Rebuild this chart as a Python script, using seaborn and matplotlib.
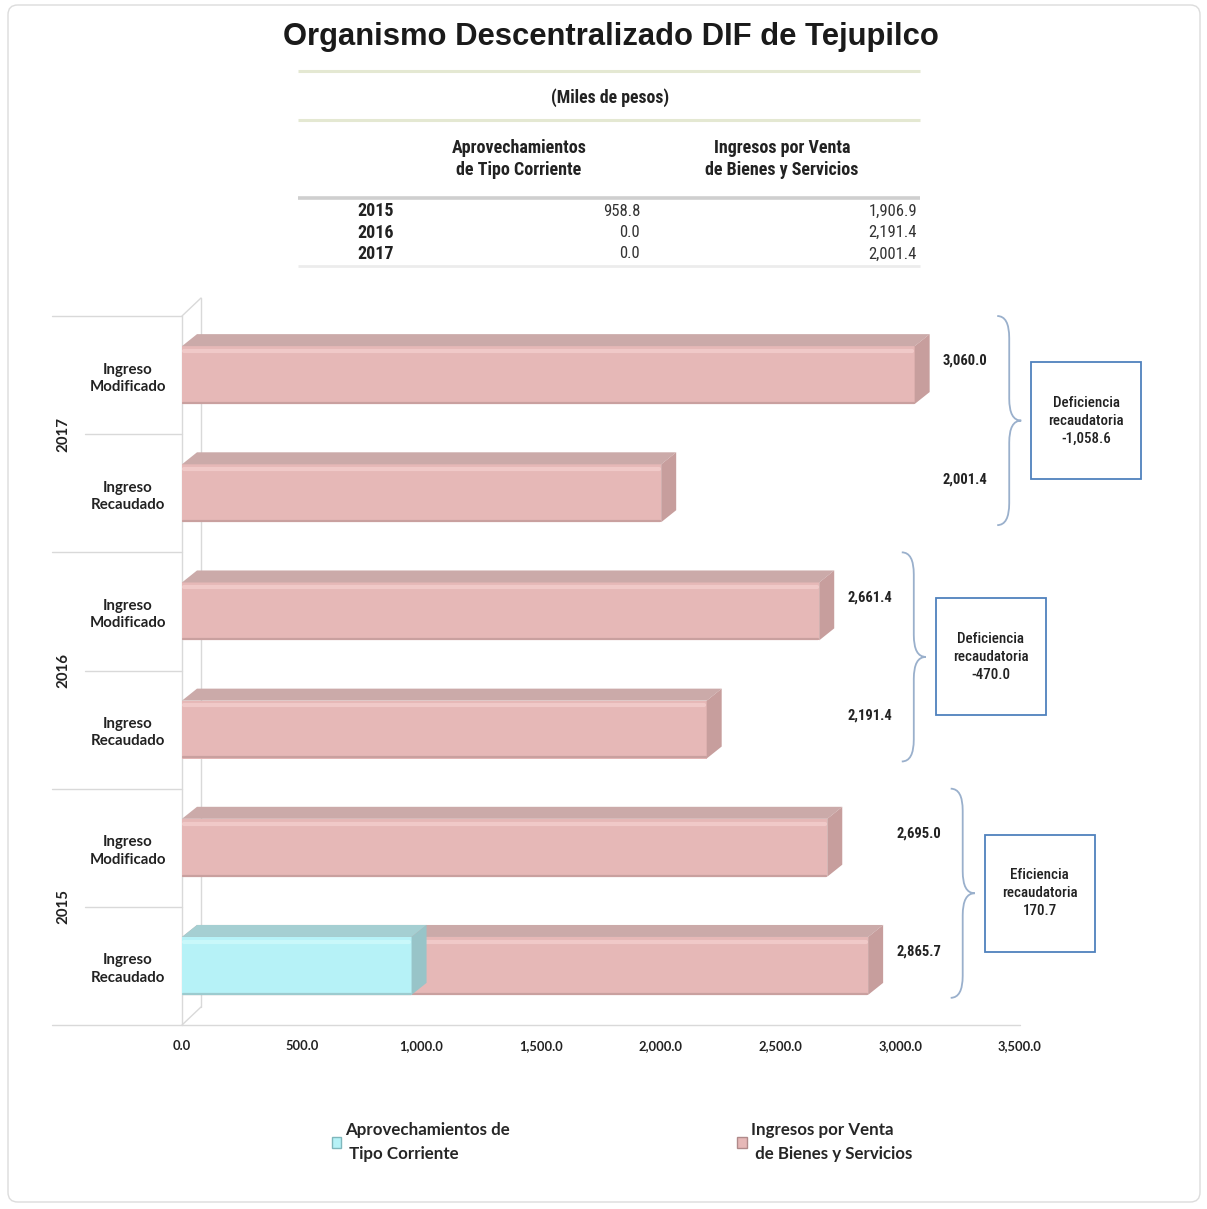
import numpy as np
import pandas as pd
import matplotlib
matplotlib.use("Agg")
import matplotlib.pyplot as plt
import seaborn as sns
from matplotlib.patches import Polygon, PathPatch, Rectangle, FancyBboxPatch, Patch
from matplotlib.path import Path
from matplotlib.lines import Line2D
from matplotlib.transforms import IdentityTransform
from matplotlib import font_manager

# ---------------- data ----------------
years = ["2017", "2016", "2015"]                      # top to bottom
stages = ["Ingreso\nModificado", "Ingreso\nRecaudado"]
aprov_modificado = [0.0, 0.0, 0.0]
ingresos_modificado = [3060.0, 2661.4, 2695.0]
aprov_recaudado = [0.0, 0.0, 958.8]
ingresos_recaudado = [2001.4, 2191.4, 1906.9]
x_ticks = [0, 500, 1000, 1500, 2000, 2500, 3000, 3500]
series_names = ["Aprovechamientos de\n Tipo Corriente", "Ingresos por Venta\n de Bienes y Servicios"]
table_headers = ["Aprovechamientos\nde Tipo Corriente", "Ingresos por Venta\nde Bienes y Servicios"]
title = "Organismo Descentralizado DIF de Tejupilco"
subtitle = "(Miles de pesos)"

# ---------------- fonts ----------------
def pick(names):
    for n in names:
        try:
            font_manager.findfont(font_manager.FontProperties(family=n), fallback_to_default=False)
            return n
        except Exception:
            continue
    return "DejaVu Sans"

sns.set_theme(style="white")
F_ARIAL = pick(["Liberation Sans", "Arimo", "DejaVu Sans"])
F_NARROW = pick(["Liberation Sans Narrow", "Roboto Condensed", "Liberation Sans"])
F_CAL = pick(["Lato", "Open Sans", "DejaVu Sans"])
plt.rcParams["font.family"] = [F_ARIAL, "DejaVu Sans"]

W, H = 1207, 1209
fig = plt.figure(figsize=(W / 100, H / 100), dpi=100)
fig.patch.set_facecolor("white")

def fx(x):
    return x / W

def fy(y):
    return 1 - y / H

# outer rounded border
fig.patches.append(FancyBboxPatch((fx(8), fy(1202)), fx(1192), 1202 / H - 5 / H,
                                  boxstyle="round,pad=0,rounding_size=0.008",
                                  transform=fig.transFigure, fill=False,
                                  edgecolor="#DCDCDC", linewidth=1.0))

# ---------------- title & table ----------------
fig.text(fx(611), fy(37), title, ha="center", va="center", fontsize=22.3,
         fontweight="bold", family=F_ARIAL, color="#1a1a1a")

def hline(y, x0, x1, color, lw):
    fig.add_artist(Line2D([fx(x0), fx(x1)], [fy(y), fy(y)], transform=fig.transFigure,
                          color=color, linewidth=lw, solid_capstyle="butt"))

hline(71, 298, 920, "#E4E8D2", 2.2)
hline(120, 298, 920, "#E4E8D2", 2.2)
hline(198, 298, 920, "#CFCFCF", 2.6)
hline(266, 298, 920, "#ECECEC", 2.0)

fig.text(fx(610), fy(98), subtitle, ha="center", va="center", fontsize=12.8,
         fontweight="bold", family=F_NARROW, color="#222222")
fig.text(fx(519), fy(159), table_headers[0], ha="center", va="center", fontsize=13,
         fontweight="bold", family=F_NARROW, color="#222222", linespacing=1.25)
fig.text(fx(782), fy(159), table_headers[1], ha="center", va="center", fontsize=13,
         fontweight="bold", family=F_NARROW, color="#222222", linespacing=1.25)

tbl_years = years[::-1]
tbl_aprov = aprov_recaudado[::-1]
tbl_ingr = ingresos_recaudado[::-1]
for i, (yy, a, b) in enumerate(zip(tbl_years, tbl_aprov, tbl_ingr)):
    ypix = 211 + i * 21.5
    fig.text(fx(375.5), fy(ypix), yy, ha="center", va="center", fontsize=13,
             fontweight="bold", family=F_NARROW, color="#222222")
    fig.text(fx(640), fy(ypix), f"{a:,.1f}", ha="right", va="center", fontsize=12,
             family=F_NARROW, color="#333333")
    fig.text(fx(917), fy(ypix), f"{b:,.1f}", ha="right", va="center", fontsize=12,
             family=F_NARROW, color="#333333")

# ---------------- bar data frame ----------------
rows = []
for g, yr in enumerate(years):
    rows.append(dict(key=f"{yr}-M", year=yr, stage=stages[0], aprov=aprov_modificado[g],
                     total=aprov_modificado[g] + ingresos_modificado[g]))
    rows.append(dict(key=f"{yr}-R", year=yr, stage=stages[1], aprov=aprov_recaudado[g],
                     total=aprov_recaudado[g] + ingresos_recaudado[g]))
df = pd.DataFrame(rows)
order = list(df["key"])

# axes placement: x 0 at px 182, 3500 at px 1020; y band 316..1025
ax = fig.add_axes([fx(182), fy(1025), (1020 - 182) / W, (1025 - 316) / H])
ax.set_facecolor("none")

PINK = "#E6B8B7"
PINK_TOP = "#CBAAA9"
PINK_SIDE = "#C79E9D"
CYAN = "#B6F2F7"
CYAN_TOP = "#A5CFD2"
CYAN_SIDE = "#98C4C8"

bw = 0.49
sns.barplot(data=df, y="key", x="total", order=order, orient="h", color=PINK,
            width=bw, ax=ax, saturation=1, linewidth=0, zorder=2)
n_pink = len(ax.patches)
sns.barplot(data=df, y="key", x="aprov", order=order, orient="h", color=CYAN,
            width=bw, ax=ax, saturation=1, linewidth=0, zorder=3)

ax.set_xlim(0, 3500)
ax.set_ylim(len(order) - 0.5, -0.5)

px_per_unit = (1020 - 182) / 3500
px_per_cat = (1025 - 316) / len(order)
dx = 15 / px_per_unit
dy = 12 / px_per_cat

for i, p in enumerate(list(ax.patches)):
    w = p.get_width()
    if w <= 0:
        continue
    is_pink = i < n_pink
    x0 = p.get_x()
    x1 = x0 + w
    y0 = p.get_y()           # visual top (axis inverted)
    y1 = y0 + p.get_height()  # visual bottom
    top_c = PINK_TOP if is_pink else CYAN_TOP
    side_c = PINK_SIDE if is_pink else CYAN_SIDE
    z = 2.5 if is_pink else 3.5
    ax.add_patch(Polygon([(x0, y0), (x0 + dx, y0 - dy), (x1 + dx, y0 - dy), (x1, y0)],
                         closed=True, facecolor=top_c, edgecolor="none", zorder=z))
    ax.add_patch(Polygon([(x1, y0), (x1 + dx, y0 - dy), (x1 + dx, y1 - dy), (x1, y1)],
                         closed=True, facecolor=side_c, edgecolor="none", zorder=z))
    # subtle highlight / shadow on front face
    hl = "#F2CCCB" if is_pink else "#CCF9FB"
    ax.plot([x0 + 10, x1 - 10], [y0 + 0.04, y0 + 0.04], color=hl, lw=3.0, zorder=z + 0.05,
            solid_capstyle="round", alpha=0.9)
    sh = "#C9A09F" if is_pink else "#9CCBCF"
    ax.plot([x0 + 6, x1 - 4], [y1 - 0.01, y1 - 0.01], color=sh, lw=1.6, zorder=z + 0.05)

# axis styling
for s in ax.spines.values():
    s.set_visible(False)
ax.set_xlabel("")
ax.set_ylabel("")
ax.set_xticks(x_ticks)
ax.set_xticklabels([f"{t:,.1f}" for t in x_ticks], fontsize=9.3, fontweight="bold",
                   family=F_CAL, color="#222222")
ax.tick_params(axis="x", length=0, pad=11)
ax.set_yticks(range(len(order)))
ax.set_yticklabels(list(df["stage"]), fontsize=10.8, fontweight="bold", family=F_CAL,
                   color="#222222", linespacing=1.3)
for t in ax.get_yticklabels():
    t.set_horizontalalignment("center")
ax.tick_params(axis="y", length=0, pad=39)

# 3D wall / floor lines
GRID = "#D9D9D9"
wall_dx = 19 / px_per_unit
wall_dy = 18 / px_per_cat
ax.plot([0, 0], [-0.5, len(order) - 0.5], color=GRID, lw=1.0, clip_on=False, zorder=1)
ax.plot([wall_dx, wall_dx], [-0.5 - wall_dy, len(order) - 0.5 - wall_dy], color=GRID, lw=1.0,
        clip_on=False, zorder=1)
ax.plot([0, wall_dx], [-0.5, -0.5 - wall_dy], color=GRID, lw=1.0, clip_on=False, zorder=1)
ax.plot([0, wall_dx], [len(order) - 0.5, len(order) - 0.5 - wall_dy], color=GRID, lw=1.0,
        clip_on=False, zorder=1)
ax.plot([0, 3500], [len(order) - 0.5, len(order) - 0.5], color=GRID, lw=1.0, clip_on=False,
        zorder=1)

# left category separators and year labels
for g, yr in enumerate(years):
    top = 2 * g - 0.5
    ax.plot([-130 / px_per_unit, 0], [top, top], color=GRID, lw=1.0, clip_on=False)
    ax.plot([-97 / px_per_unit, 0], [top + 1, top + 1], color=GRID, lw=1.0, clip_on=False)
    ax.text(-119 / px_per_unit, top + 1, yr, rotation=90, ha="center", va="center",
            fontsize=10.8, fontweight="bold", family=F_CAL, color="#222222")
ax.plot([-130 / px_per_unit, 0], [len(order) - 0.5] * 2, color=GRID, lw=1.0, clip_on=False)

fig.canvas.draw()

# value labels, braces and boxes
BRACE = "#9AB0CC"
BOX = "#4F81BD"
for g, yr in enumerate(years):
    sub = df[df["year"] == yr]
    gmax = sub["total"].max()
    for j, (_, r) in enumerate(sub.iterrows()):
        yc = 2 * g + j - 0.12
        ax.text(gmax + 118, yc, f"{r['total']:,.1f}", ha="left", va="center", fontsize=10.5,
                fontweight="bold", family=F_NARROW, color="#222222", clip_on=False)
    top = 2 * g - 0.5
    xb = gmax + 395
    (xm, ytop), = ax.transData.transform([(xb, top)])
    (_, ybot), = ax.transData.transform([(xb, top + 1.77)])
    ymid = (ytop + ybot) / 2
    hw = 12
    r = 22
    xl, xr = xm - hw, xm + hw
    verts = [(xl, ytop), (xm, ytop), (xm, ytop - r), (xm, ymid + r), (xm, ymid), (xr, ymid),
             (xm, ymid), (xm, ymid - r), (xm, ybot + r), (xm, ybot), (xl, ybot)]
    codes = [Path.MOVETO, Path.CURVE3, Path.CURVE3, Path.LINETO, Path.CURVE3, Path.CURVE3,
             Path.CURVE3, Path.CURVE3, Path.LINETO, Path.CURVE3, Path.CURVE3]
    fig.patches.append(PathPatch(Path(verts, codes), transform=IdentityTransform(),
                                 fill=False, edgecolor=BRACE, linewidth=1.3))
    bx0 = xr + 10
    bwid, bh = 110, 117
    fig.patches.append(Rectangle((bx0, ymid - bh / 2), bwid, bh, transform=IdentityTransform(),
                                 fill=True, facecolor="white", edgecolor=BOX, linewidth=1.3))
    rec_total = sub["total"].iloc[1]
    mod_total = sub["total"].iloc[0]
    diff = rec_total - mod_total
    word = "Eficiencia" if diff >= 0 else "Deficiencia"
    fig.text((bx0 + bwid / 2) / W, ymid / H, f"{word}\nrecaudatoria\n{diff:,.1f}",
             ha="center", va="center", fontsize=10.8, family=F_NARROW, color="#222222",
             linespacing=1.35, fontweight="medium")

# legend
handles = [Patch(facecolor=CYAN, edgecolor="#7FB7BC"), Patch(facecolor=PINK, edgecolor="#B08A8A")]
leg = fig.legend(handles, series_names, loc="center", bbox_to_anchor=(fx(622), fy(1142)), ncol=2,
                 frameon=False, handlelength=0.55, handleheight=0.55, handletextpad=0.25,
                 columnspacing=13.4, prop=dict(family=F_CAL, weight="bold", size=12.2))
for t in leg.get_texts():
    t.set_linespacing(1.55)

fig.savefig("out.png", dpi=100, facecolor="white")
